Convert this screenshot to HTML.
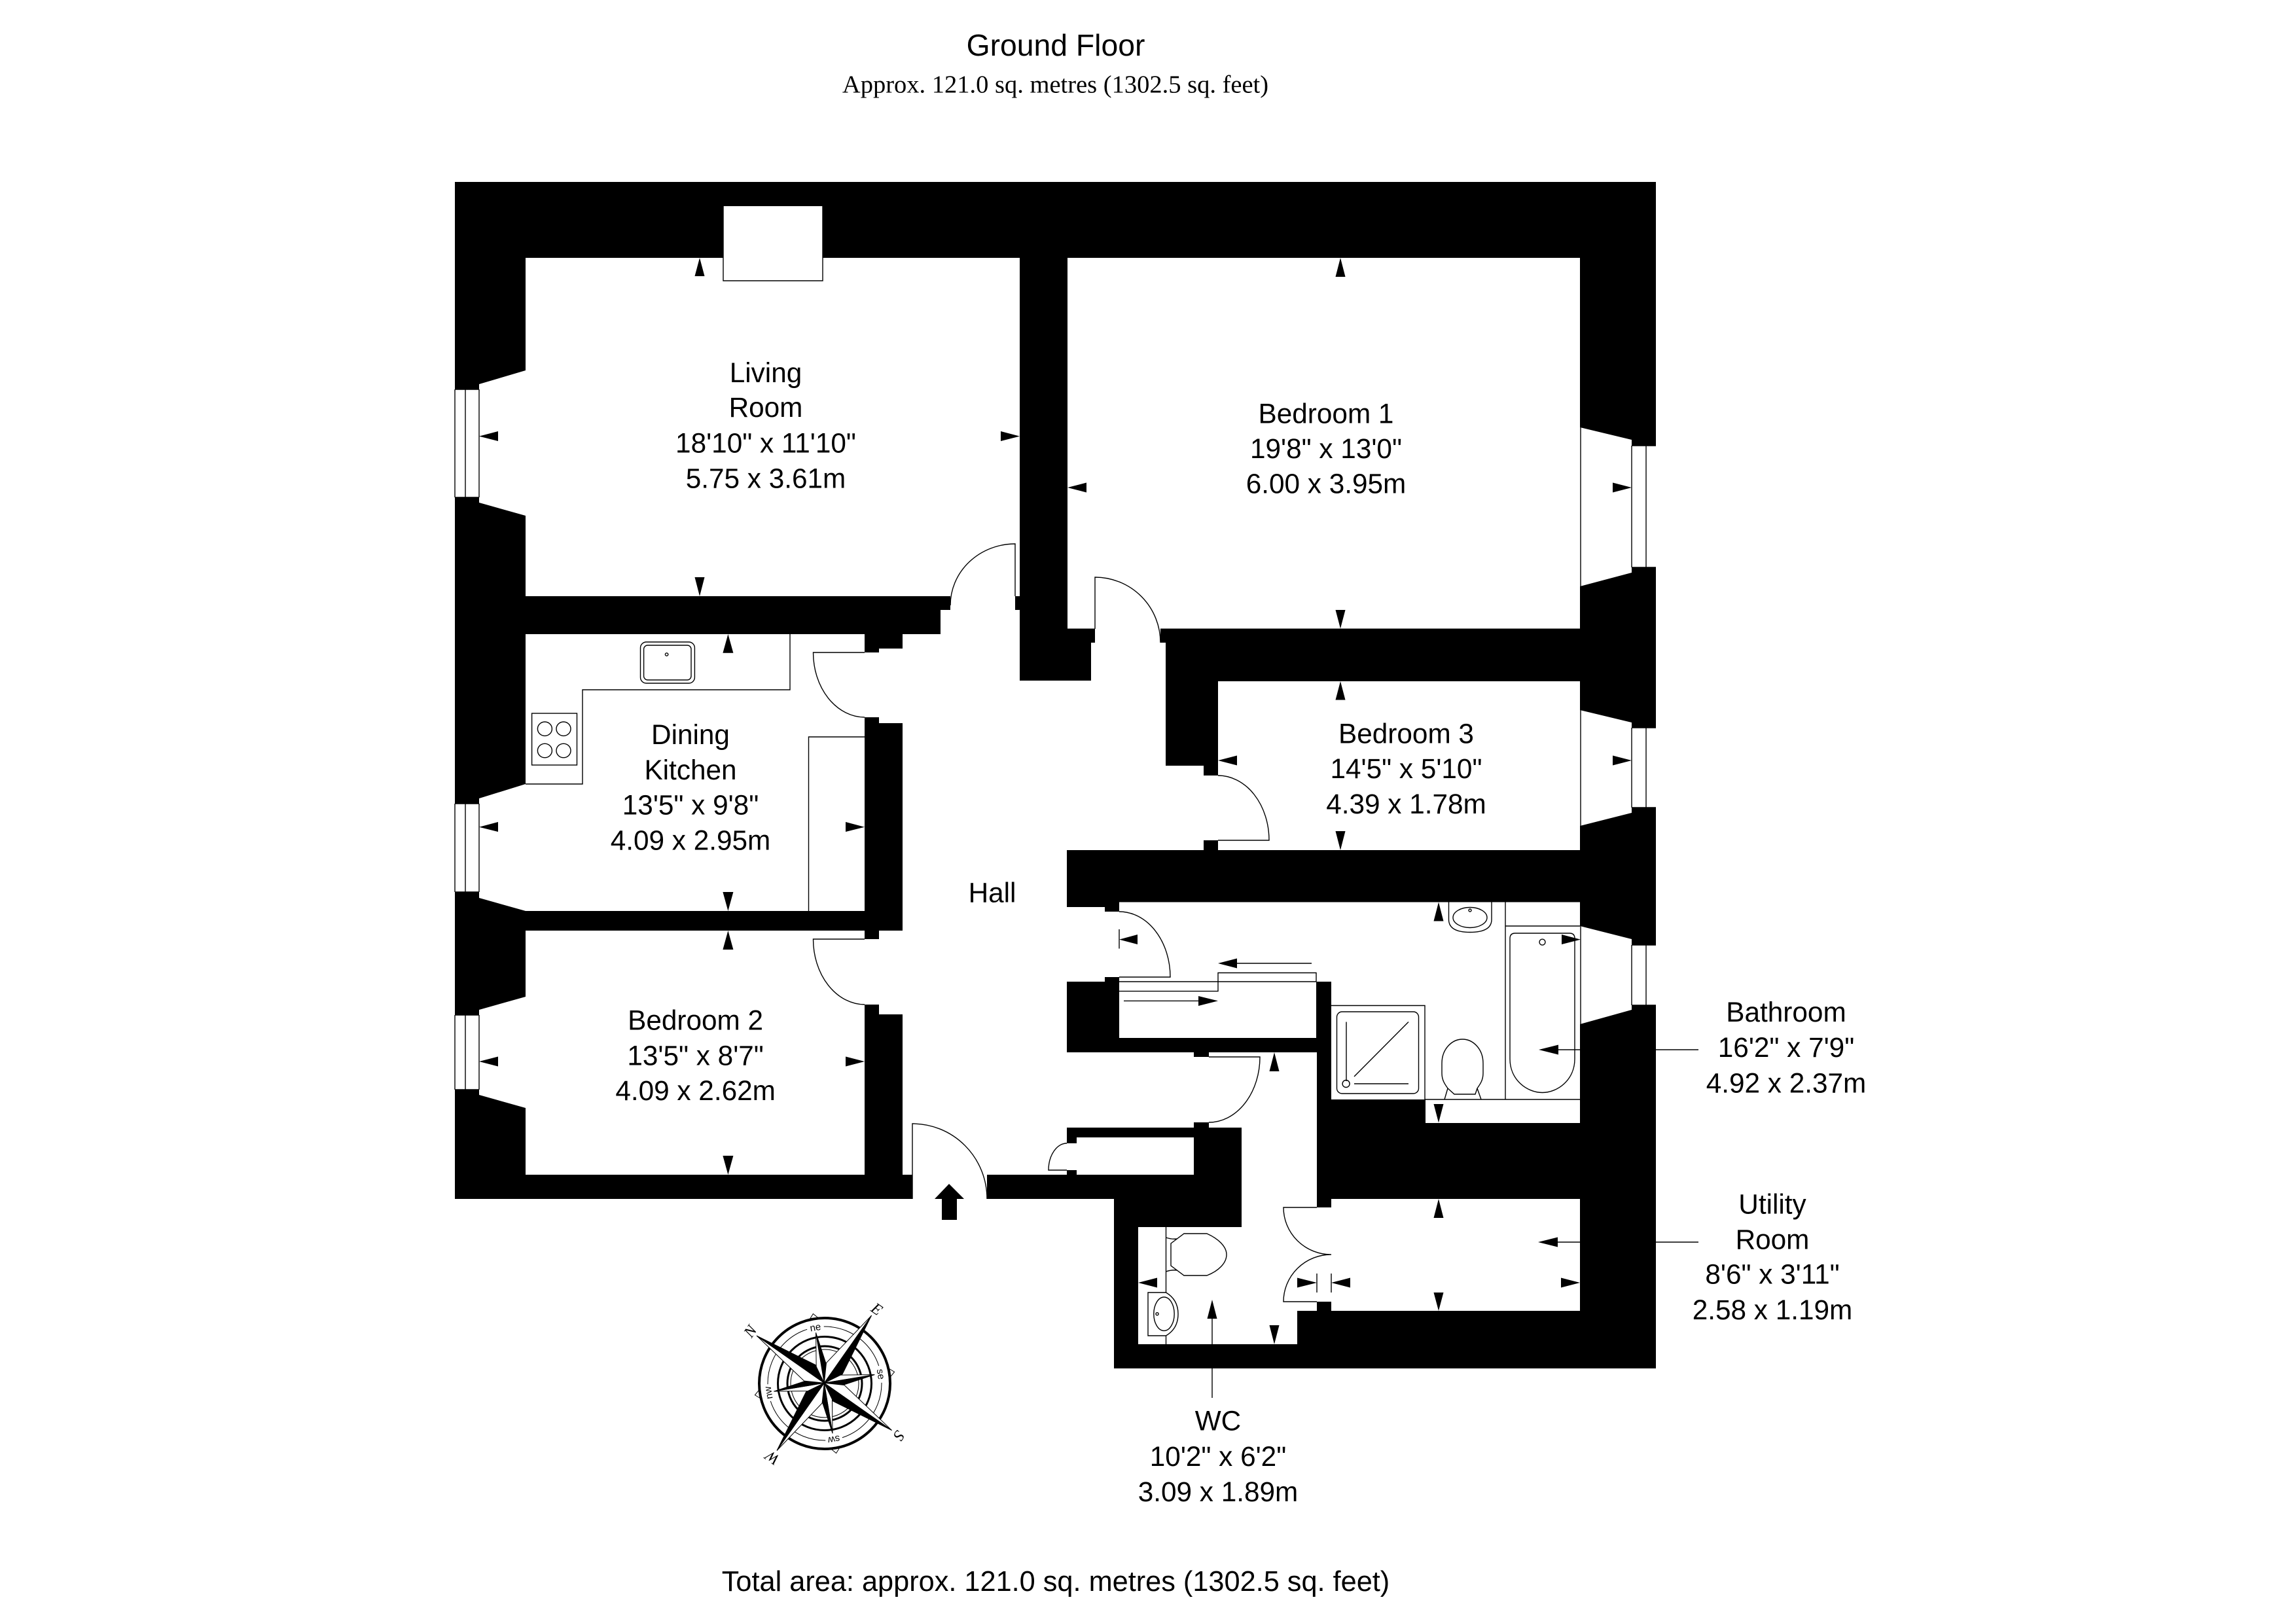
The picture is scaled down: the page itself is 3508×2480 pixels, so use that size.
<!DOCTYPE html>
<html lang="en">
<head>
<meta charset="utf-8">
<title>Ground Floor</title>
<style>
html,body{margin:0;padding:0;background:#fff}
svg{display:block}
text{font-family:"Liberation Sans",sans-serif;font-size:42.3px;fill:#000;text-anchor:middle}
.serif{font-family:"Liberation Serif",serif}
.l{fill:none;stroke:#000;stroke-width:1.4}
.w{fill:#fff;stroke:none}
.a{fill:#000;stroke:none}
</style>
</head>
<body>
<svg xmlns="http://www.w3.org/2000/svg" width="3508" height="2480" viewBox="0 0 3508 2480">
<rect width="3508" height="2480" fill="#fff"/>

<!-- Titles -->
<text x="1613" y="85" style="font-size:46.3px">Ground Floor</text>
<text x="1612.5" y="141.5" class="serif" style="font-size:38.5px">Approx. 121.0 sq. metres (1302.5 sq. feet)</text>
<text x="1613" y="2431" style="font-size:43.3px">Total area: approx. 121.0 sq. metres (1302.5 sq. feet)</text>

<!-- Wall mass -->
<polygon fill="#000" points="695,278 2530,278 2530,2091 1702,2091 1702,1832 695,1832"/>

<!-- Rooms -->
<polygon class="w" points="803,394 1558,394 1558,911 803,911 803,788 732,768 732,760 695,760 695,595 732,595 732,587 803,566"/>
<rect class="w" x="1105" y="315" width="152" height="114"/>
<polygon class="w" points="1631,394 2414,394 2414,653 2493,672 2493,681 2530,681 2530,867 2493,867 2493,875 2414,896 2414,960.5 1631,960.5"/>
<polygon class="w" points="803,969 1321,969 1321,1392 803,1392 732,1372 732,1363 695,1363 695,1228 732,1228 732,1220 803,1198"/>
<polygon class="w" points="803,1422 1321,1422 1321,1795 803,1795 803,1693 732,1673 732,1665 695,1665 695,1551 732,1551 732,1543 803,1523"/>
<polygon class="w" points="1861,1041 2414,1041 2414,1085 2493,1104 2493,1112 2530,1112 2530,1234 2493,1234 2493,1242 2414,1262 2414,1299 1861,1299"/>
<polygon class="w" points="1710,1378.5 2414,1378.5 2414,1415 2493,1435 2493,1444 2530,1444 2530,1536 2493,1536 2493,1543 2414,1565 2414,1716 2178,1716 2178,1680 2034,1680 2034,1500 2011,1500 2011,1586 1710,1586"/>
<rect class="w" x="1645" y="1738" width="179" height="57"/>
<!-- Hall, corridor, WC, utility -->
<polygon class="w" points="1452,911 1551,911 1551,932 1558,932 1558,1040 1667,1040 1667,982 1673,982 1673,960 1773,960 1773,982 1781,982 1781,1170 1839,1170 1839,1185 1861,1185 1861,1284 1839,1284 1839,1299 1630,1299 1630,1386 1688,1386 1688,1393 1710,1393 1710,1493 1688,1493 1688,1500 1630,1500 1630,1608 1824,1608 1824,1615 1847,1615 1847,1608 2012,1608 2012,1845 2034,1845 2034,1832 2414,1832 2414,2003 2034,2003 2034,1989 2012,1989 2012,2003 1982,2003 1982,2054 1739,2054 1739,1875 1897,1875 1897,1723 1847,1723 1847,1715 1824,1715 1824,1723 1630,1723 1630,1747 1645,1747 1645,1788 1630,1788 1630,1795 1508,1795 1508,1832 1394,1832 1394,1795 1379,1795 1379,1550 1343,1550 1343,1535 1321,1535 1321,1435 1343,1435 1343,1422 1379,1422 1379,1105 1343,1105 1343,1096 1321,1096 1321,997 1343,997 1343,991 1379,991 1379,969 1437,969 1437,932 1452,932"/>

<!-- Thin lines: chimney, windows, bay edges -->
<path class="l" d="M1105,315V429H1257V315"/>
<path class="l" d="M695,595V760M711,595V760M732,595V760M695,595H732M695,760H732"/>
<path class="l" d="M695,1228V1363M711,1228V1363M732,1228V1363M695,1228H732M695,1363H732"/>
<path class="l" d="M695,1551V1665M711,1551V1665M732,1551V1665M695,1551H732M695,1665H732"/>
<path class="l" d="M2415,653V896M2493,681V867M2515,681V867M2493,681H2530M2493,867H2530"/>
<path class="l" d="M2415,1085V1262M2493,1112V1234M2515,1112V1234M2493,1112H2530M2493,1234H2530"/>
<path class="l" d="M2415,1415V1565M2493,1444V1536M2515,1444V1536M2493,1444H2530M2493,1536H2530"/>

<!-- Doors -->
<path class="l" d="M1551,911V831A99 94 0 0 0 1452,925"/>
<path class="l" d="M1673,961V882A100 100 0 0 1 1773,982"/>
<path class="l" d="M1321,997H1242.5A79 99 0 0 0 1321,1096"/>
<path class="l" d="M1321,1435H1242.5A79 100 0 0 0 1321,1535"/>
<path class="l" d="M1861,1284H1939A78 99 0 0 0 1861,1185"/>
<path class="l" d="M1710,1493H1788A78 100 0 0 0 1710,1393"/>
<path class="l" d="M1847,1615H1925A78 100 0 0 1 1847,1715"/>
<path class="l" d="M1394,1832V1717A114 115 0 0 1 1508,1832"/>
<path class="l" d="M1630,1788H1602A28 41 0 0 1 1630,1747"/>
<path class="l" d="M2012,1845H1961A73 72 0 0 0 2034,1917A73 72 0 0 0 1961,1989H2012"/>

<!-- Kitchen fittings -->
<path class="l" d="M1207,969V1054H890V1198H803"/>
<rect class="l" x="978.5" y="981" width="82.9" height="63" rx="9"/>
<rect class="l" x="983.6" y="986" width="72.4" height="53" rx="6"/>
<circle class="l" cx="1018.6" cy="1000" r="2.2"/>
<rect class="l" x="812.6" y="1090" width="68.9" height="79"/>
<ellipse class="l" cx="832.4" cy="1113.7" rx="11" ry="10.7"/>
<ellipse class="l" cx="861" cy="1113.7" rx="11" ry="10.7"/>
<ellipse class="l" cx="832.4" cy="1147" rx="11" ry="10.7"/>
<ellipse class="l" cx="861" cy="1147" rx="11" ry="10.7"/>
<path class="l" d="M1235.5,1392V1126H1321"/>

<!-- Bathroom cupboard lines -->
<path class="l" d="M1710,1500H2011M1710,1514.6H1861V1486.5H2011V1500"/>
<path class="l" d="M1890,1472H2004M1717,1529.4H1831M1710,1420V1449.5"/>

<!-- Bathroom fittings -->
<path class="l" d="M2034,1536.5H2177V1680M2177,1680H2414M2300,1378.5V1680M2300,1415H2414"/>
<path class="l" d="M2213.5,1378.5V1405Q2213.5,1424.5 2246,1424.5Q2279,1424.5 2279,1405V1378.5"/>
<ellipse class="l" cx="2246" cy="1402" rx="26" ry="15.5"/>
<circle class="l" cx="2246" cy="1391" r="2"/>
<path class="l" d="M2315,1426H2398Q2406,1426 2406,1434V1618C2406,1650 2380,1669.5 2356.5,1669.5C2333,1669.5 2307,1650 2307,1618V1434Q2307,1426 2315,1426Z"/>
<ellipse class="l" cx="2356.5" cy="1439.6" rx="4.5" ry="4.5"/>
<rect class="l" x="2042.5" y="1546" width="125" height="125" rx="8"/>
<path class="l" d="M2057,1561.5V1652M2069,1645L2152,1561.5M2069,1656H2152"/>
<circle class="l" cx="2056.6" cy="1656" r="5.5"/>
<path class="l" d="M2234.5,1588C2250,1588 2266,1602 2266,1625V1640C2266,1650 2262,1656 2257,1663L2263,1680M2234.5,1588C2219,1588 2203,1602 2203,1625V1640C2203,1650 2207,1656 2212,1663L2207,1680M2212,1663L2222,1672H2254L2257,1663"/>

<!-- WC fittings -->
<path class="l" d="M1781.5,1875V1975M1781.5,2041V2054"/>
<path class="l" d="M1789,1900L1809,1885H1844C1862,1893 1874,1905 1874,1917C1874,1930 1862,1942 1844,1949H1809L1789,1934Z"/>
<path class="l" d="M1781.5,1891Q1790,1894 1798.5,1893M1781.5,1943Q1790,1940 1798.5,1941"/>
<path class="l" d="M1781.5,1975H1754V2041H1781.5Q1800,2030 1800,2007.7Q1800,1986 1781.5,1975Z"/>
<ellipse class="l" cx="1778.5" cy="2007.7" rx="15.7" ry="25.7"/>
<circle class="l" cx="1768" cy="2007.7" r="2"/>

<!-- Utility / WC measure lines -->
<path class="l" d="M2012,1946V1975M2034,1946V1975"/>
<path class="l" d="M2381,1604H2415M2530,1604H2595M2380,1898H2414M2530,1898H2595M1852,2015V2054M1852,2091V2136"/>

<!-- Dimension arrows -->
<g class="a">
<polygon points="1069,394 1061.5,422 1076.5,422"/>
<polygon points="1069,911 1061.5,882 1076.5,882"/>
<polygon points="732,666.6 761,659 761,674"/>
<polygon points="1558,666.6 1529,659 1529,674"/>
<polygon points="2048,394 2040.5,423 2055.5,423"/>
<polygon points="2048,960.5 2040.5,932 2055.5,932"/>
<polygon points="1631,745 1660,737.5 1660,752.5"/>
<polygon points="2493,745 2464,737.5 2464,752.5"/>
<polygon points="1112.4,969 1104.4,997.7 1120.4,997.7"/>
<polygon points="1112.4,1392 1104.4,1363 1120.4,1363"/>
<polygon points="732,1263.7 761,1256 761,1271"/>
<polygon points="1321,1263.7 1292,1256 1292,1271"/>
<polygon points="1112.4,1422 1104.4,1451 1120.4,1451"/>
<polygon points="1112.4,1795 1104.4,1766 1120.4,1766"/>
<polygon points="732,1622 761,1614.5 761,1629.5"/>
<polygon points="1321,1622 1292,1614.5 1292,1629.5"/>
<polygon points="2048,1041 2040.5,1069.5 2055.5,1069.5"/>
<polygon points="2048,1299 2040.5,1270 2055.5,1270"/>
<polygon points="1861,1162 1890,1154.5 1890,1169.5"/>
<polygon points="2493,1162 2464,1154.5 2464,1169.5"/>
<polygon points="1861,1472 1890,1464.5 1890,1479.5"/>
<polygon points="1861,1529.4 1831,1522 1831,1537"/>
<polygon points="1710,1435.6 1738,1428 1738,1443"/>
<polygon points="2198,1378.5 2190.5,1407.5 2205.5,1407.5"/>
<polygon points="2198,1715.5 2190.5,1687 2205.5,1687"/>
<polygon points="2415,1435.6 2386,1428 2386,1443"/>
<polygon points="2351,1604 2381,1596.5 2381,1611.5"/>
<polygon points="1947,1608 1939.5,1637 1954.5,1637"/>
<polygon points="2198,1832 2190.5,1861 2205.5,1861"/>
<polygon points="2198,2003 2190.5,1975 2205.5,1975"/>
<polygon points="2350,1898 2380,1890.5 2380,1905.5"/>
<polygon points="2414,1960 2385,1952.5 2385,1967.5"/>
<polygon points="2012,1960 1982,1952.5 1982,1967.5"/>
<polygon points="2034,1960 2063,1952.5 2063,1967.5"/>
<polygon points="1739,1960 1768,1952.5 1768,1967.5"/>
<polygon points="1852,1986 1844.5,2015 1859.5,2015"/>
<polygon points="1947,2054 1939.5,2025 1954.5,2025"/>
<!-- entrance arrow -->
<polygon points="1450,1809 1473,1832 1462,1832 1462,1864 1439,1864 1439,1832 1428,1832"/>
</g>

<!-- Room labels -->
<g transform="translate(0 -1.5)">
<text x="1170" y="585.5">Living</text>
<text x="1170" y="638.6">Room</text>
<text x="1170" y="693">18'10" x 11'10"</text>
<text x="1170" y="747">5.75 x 3.61m</text>

<text x="2026" y="647.8">Bedroom 1</text>
<text x="2026" y="701.3">19'8" x 13'0"</text>
<text x="2026" y="755">6.00 x 3.95m</text>

<text x="1055" y="1138.3">Dining</text>
<text x="1055" y="1192.3">Kitchen</text>
<text x="1055" y="1246">13'5" x 9'8"</text>
<text x="1055" y="1300">4.09 x 2.95m</text>

<text x="1516" y="1380">Hall</text>

<text x="1062.6" y="1575">Bedroom 2</text>
<text x="1062.6" y="1629">13'5" x 8'7"</text>
<text x="1062.6" y="1682.7">4.09 x 2.62m</text>

<text x="2148.5" y="1137">Bedroom 3</text>
<text x="2148.5" y="1190.5">14'5" x 5'10"</text>
<text x="2148.5" y="1244.6">4.39 x 1.78m</text>

<text x="2729" y="1562.5">Bathroom</text>
<text x="2729" y="1616.5">16'2" x 7'9"</text>
<text x="2729" y="1671">4.92 x 2.37m</text>

<text x="2708" y="1856">Utility</text>
<text x="2708" y="1910">Room</text>
<text x="2708" y="1963">8'6" x 3'11"</text>
<text x="2708" y="2017.5">2.58 x 1.19m</text>

<text x="1861" y="2187">WC</text>
<text x="1861" y="2241.7">10'2" x 6'2"</text>
<text x="1861" y="2295.7">3.09 x 1.89m</text>
</g>

<!-- Compass rose -->
<g transform="translate(1260 2114)">
  <g fill="#fff" stroke="#000" stroke-width="1">
    <polygon points="-7,-100 0,-108 7,-100" transform="rotate(-9.4)"/>
    <polygon points="-7,-100 0,-108 7,-100" transform="rotate(80.6)"/>
    <polygon points="-7,-100 0,-108 7,-100" transform="rotate(170.6)"/>
    <polygon points="-7,-100 0,-108 7,-100" transform="rotate(260.6)"/>
  </g>
  <circle r="100" fill="#fff" stroke="#000" stroke-width="4"/>
  <circle r="87" fill="none" stroke="#000" stroke-width="1"/>
  <circle r="71.5" fill="none" stroke="#000" stroke-width="3"/>
  <circle r="57" fill="none" stroke="#000" stroke-width="3"/>
  <circle r="52" fill="none" stroke="#000" stroke-width="1"/>
  <g>
    <g transform="rotate(-9.4)"><rect x="-13" y="-96" width="26" height="18" fill="#fff"/><text y="-82" style="font-size:15px">ne</text></g>
    <g transform="rotate(80.6)"><rect x="-13" y="-96" width="26" height="18" fill="#fff"/><text y="-82" style="font-size:15px">se</text></g>
    <g transform="rotate(170.6)"><rect x="-13" y="-96" width="26" height="18" fill="#fff"/><text y="-82" style="font-size:15px">sw</text></g>
    <g transform="rotate(260.6)"><rect x="-13" y="-96" width="26" height="18" fill="#fff"/><text y="-82" style="font-size:15px">nw</text></g>
  </g>
  <g transform="translate(-0.7 -0.7)" stroke="#000" stroke-width="1">
    <g transform="rotate(-9.4)"><polygon points="0,-78 -8,-26 0,0" fill="#fff"/><polygon points="0,-78 8,-26 0,0" fill="#000"/></g>
    <g transform="rotate(80.6)"><polygon points="0,-78 -8,-26 0,0" fill="#fff"/><polygon points="0,-78 8,-26 0,0" fill="#000"/></g>
    <g transform="rotate(170.6)"><polygon points="0,-78 -8,-26 0,0" fill="#fff"/><polygon points="0,-78 8,-26 0,0" fill="#000"/></g>
    <g transform="rotate(260.6)"><polygon points="0,-78 -8,-26 0,0" fill="#fff"/><polygon points="0,-78 8,-26 0,0" fill="#000"/></g>
    <g transform="rotate(-55)"><polygon points="0,-126 -15,-27 0,0" fill="#fff"/><polygon points="0,-126 15,-27 0,0" fill="#000"/></g>
    <g transform="rotate(35)"><polygon points="0,-126 -15,-27 0,0" fill="#fff"/><polygon points="0,-126 15,-27 0,0" fill="#000"/></g>
    <g transform="rotate(125)"><polygon points="0,-126 -15,-27 0,0" fill="#fff"/><polygon points="0,-126 15,-27 0,0" fill="#000"/></g>
    <g transform="rotate(215)"><polygon points="0,-126 -15,-27 0,0" fill="#fff"/><polygon points="0,-126 15,-27 0,0" fill="#000"/></g>
  </g>
  <g>
    <text transform="rotate(-55) translate(0 -131)" class="serif" style="font-size:24px;font-style:italic">N</text>
    <text transform="rotate(35) translate(0 -131)" class="serif" style="font-size:24px;font-style:italic">E</text>
    <text transform="rotate(125) translate(0 -131)" class="serif" style="font-size:24px;font-style:italic">S</text>
    <text transform="rotate(215) translate(0 -131)" class="serif" style="font-size:24px;font-style:italic">W</text>
  </g>
</g>
</svg>
</body>
</html>
